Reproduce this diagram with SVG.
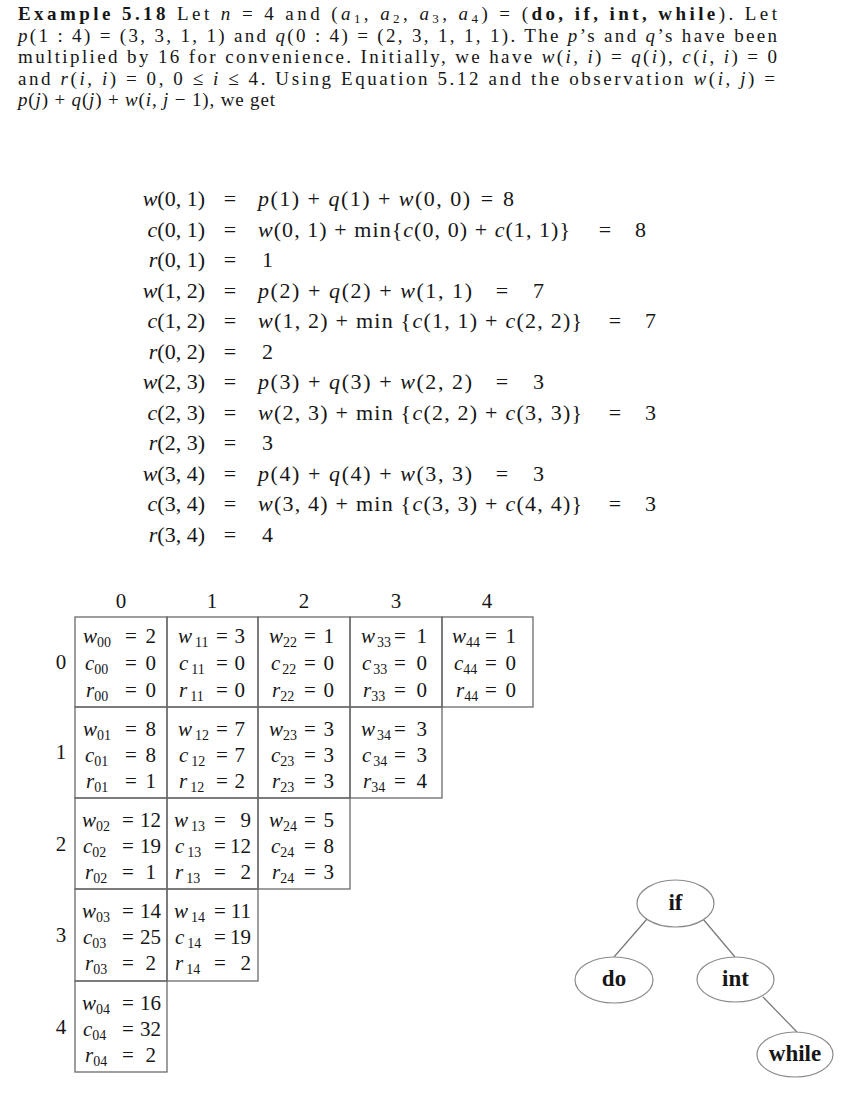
<svg xmlns="http://www.w3.org/2000/svg" width="864" height="1099" viewBox="0 0 864 1099">
<style>
text{font-family:'Liberation Serif','Times New Roman',serif;fill:#161616}
.p{font-size:19px}
.eq{font-size:22px}
.tb{font-size:21px}
.hd{font-size:21px}
.i{font-style:italic}
.b{font-weight:bold}
.sub{font-size:14px;baseline-shift:-4px}
.psub{font-size:13px;baseline-shift:-3px}
.m{text-anchor:middle}
.e{text-anchor:end}
.cell{fill:none;stroke:#6a6a6a;stroke-width:1.3}
.node{fill:#fff;stroke:#8a8a8a;stroke-width:1.2}
.nl{font-size:23px;font-weight:bold;text-anchor:middle}
.edge{stroke:#777;stroke-width:1.2;fill:none}
</style>
<rect width="864" height="1099" fill="#fff"/>
<g id="paragraph">
<text class="p" x="18" y="20" textLength="759" lengthAdjust="spacing"><tspan class="b">Example 5.18</tspan> Let <tspan class="i">n</tspan> = 4 and (<tspan class="i">a</tspan><tspan class="psub">1</tspan>, <tspan class="i">a</tspan><tspan class="psub">2</tspan>, <tspan class="i">a</tspan><tspan class="psub">3</tspan>, <tspan class="i">a</tspan><tspan class="psub">4</tspan>) = (<tspan class="b">do, if, int, while</tspan>). Let</text>
<text class="p" x="18" y="41.5" textLength="759" lengthAdjust="spacing"><tspan class="i">p</tspan>(1 : 4) = (3, 3, 1, 1) and <tspan class="i">q</tspan>(0 : 4) = (2, 3, 1, 1, 1). The <tspan class="i">p</tspan>’s and <tspan class="i">q</tspan>’s have been</text>
<text class="p" x="18" y="63" textLength="759" lengthAdjust="spacing">multiplied by 16 for convenience. Initially, we have <tspan class="i">w</tspan>(<tspan class="i">i</tspan>, <tspan class="i">i</tspan>) = <tspan class="i">q</tspan>(<tspan class="i">i</tspan>), <tspan class="i">c</tspan>(<tspan class="i">i</tspan>, <tspan class="i">i</tspan>) = 0</text>
<text class="p" x="18" y="84.5" textLength="757" lengthAdjust="spacing">and <tspan class="i">r</tspan>(<tspan class="i">i</tspan>, <tspan class="i">i</tspan>) = 0, 0 ≤ <tspan class="i">i</tspan> ≤ 4. Using Equation 5.12 and the observation <tspan class="i">w</tspan>(<tspan class="i">i</tspan>, <tspan class="i">j</tspan>) =</text>
<text class="p" x="18" y="106" textLength="257" lengthAdjust="spacing"><tspan class="i">p</tspan>(<tspan class="i">j</tspan>) + <tspan class="i">q</tspan>(<tspan class="i">j</tspan>) + <tspan class="i">w</tspan>(<tspan class="i">i</tspan>, <tspan class="i">j</tspan> − 1), we get</text>
</g>
<g id="equations">
<text class="eq e" x="205" y="206"><tspan class="i">w</tspan>(0, 1)</text>
<text class="eq m" x="230" y="206">=</text>
<text class="eq" x="258" y="206" textLength="212" lengthAdjust="spacing"><tspan class="i">p</tspan>(1) + <tspan class="i">q</tspan>(1) + <tspan class="i">w</tspan>(0, 0)</text>
<text class="eq m" x="487" y="206">=</text>
<text class="eq" x="503" y="206">8</text>

<text class="eq e" x="205" y="236.5"><tspan class="i">c</tspan>(0, 1)</text>
<text class="eq m" x="230" y="236.5">=</text>
<text class="eq" x="258" y="236.5" textLength="312" lengthAdjust="spacing"><tspan class="i">w</tspan>(0, 1) + min{<tspan class="i">c</tspan>(0, 0) + <tspan class="i">c</tspan>(1, 1)}</text>
<text class="eq m" x="605" y="236.5">=</text>
<text class="eq" x="635" y="236.5">8</text>

<text class="eq e" x="205" y="267"><tspan class="i">r</tspan>(0, 1)</text>
<text class="eq m" x="230" y="267">=</text>
<text class="eq" x="262" y="267">1</text>

<text class="eq e" x="205" y="297.5"><tspan class="i">w</tspan>(1, 2)</text>
<text class="eq m" x="230" y="297.5">=</text>
<text class="eq" x="258" y="297.5" textLength="214" lengthAdjust="spacing"><tspan class="i">p</tspan>(2) + <tspan class="i">q</tspan>(2) + <tspan class="i">w</tspan>(1, 1)</text>
<text class="eq m" x="502" y="297.5">=</text>
<text class="eq" x="533" y="297.5">7</text>

<text class="eq e" x="205" y="328"><tspan class="i">c</tspan>(1, 2)</text>
<text class="eq m" x="230" y="328">=</text>
<text class="eq" x="258" y="328" textLength="324" lengthAdjust="spacing"><tspan class="i">w</tspan>(1, 2) + min {<tspan class="i">c</tspan>(1, 1) + <tspan class="i">c</tspan>(2, 2)}</text>
<text class="eq m" x="615" y="328">=</text>
<text class="eq" x="645" y="328">7</text>

<text class="eq e" x="205" y="358.5"><tspan class="i">r</tspan>(0, 2)</text>
<text class="eq m" x="230" y="358.5">=</text>
<text class="eq" x="262" y="358.5">2</text>

<text class="eq e" x="205" y="389"><tspan class="i">w</tspan>(2, 3)</text>
<text class="eq m" x="230" y="389">=</text>
<text class="eq" x="258" y="389" textLength="214" lengthAdjust="spacing"><tspan class="i">p</tspan>(3) + <tspan class="i">q</tspan>(3) + <tspan class="i">w</tspan>(2, 2)</text>
<text class="eq m" x="502" y="389">=</text>
<text class="eq" x="533" y="389">3</text>

<text class="eq e" x="205" y="419.5"><tspan class="i">c</tspan>(2, 3)</text>
<text class="eq m" x="230" y="419.5">=</text>
<text class="eq" x="258" y="419.5" textLength="324" lengthAdjust="spacing"><tspan class="i">w</tspan>(2, 3) + min {<tspan class="i">c</tspan>(2, 2) + <tspan class="i">c</tspan>(3, 3)}</text>
<text class="eq m" x="615" y="419.5">=</text>
<text class="eq" x="645" y="419.5">3</text>

<text class="eq e" x="205" y="450"><tspan class="i">r</tspan>(2, 3)</text>
<text class="eq m" x="230" y="450">=</text>
<text class="eq" x="262" y="450">3</text>

<text class="eq e" x="205" y="480.5"><tspan class="i">w</tspan>(3, 4)</text>
<text class="eq m" x="230" y="480.5">=</text>
<text class="eq" x="258" y="480.5" textLength="214" lengthAdjust="spacing"><tspan class="i">p</tspan>(4) + <tspan class="i">q</tspan>(4) + <tspan class="i">w</tspan>(3, 3)</text>
<text class="eq m" x="502" y="480.5">=</text>
<text class="eq" x="533" y="480.5">3</text>

<text class="eq e" x="205" y="511"><tspan class="i">c</tspan>(3, 4)</text>
<text class="eq m" x="230" y="511">=</text>
<text class="eq" x="258" y="511" textLength="324" lengthAdjust="spacing"><tspan class="i">w</tspan>(3, 4) + min {<tspan class="i">c</tspan>(3, 3) + <tspan class="i">c</tspan>(4, 4)}</text>
<text class="eq m" x="615" y="511">=</text>
<text class="eq" x="645" y="511">3</text>

<text class="eq e" x="205" y="541.5"><tspan class="i">r</tspan>(3, 4)</text>
<text class="eq m" x="230" y="541.5">=</text>
<text class="eq" x="262" y="541.5">4</text>
</g>
<g id="table-headers">
<text class="hd m" x="121" y="608">0</text>
<text class="hd m" x="212" y="608">1</text>
<text class="hd m" x="304" y="608">2</text>
<text class="hd m" x="396" y="608">3</text>
<text class="hd m" x="487" y="608">4</text>
<text class="hd m" x="61" y="669">0</text>
<text class="hd m" x="61" y="759">1</text>
<text class="hd m" x="61" y="851">2</text>
<text class="hd m" x="61" y="942">3</text>
<text class="hd m" x="61" y="1034">4</text>
</g>
<g id="cell-0-0"><rect class="cell" x="75" y="617" width="92" height="90"/>
<text class="tb" x="83" y="643"><tspan class="i">w</tspan><tspan class="sub">00</tspan></text><text class="tb m" x="131" y="643">=</text><text class="tb e" x="156" y="643">2</text>
<text class="tb" x="85" y="670"><tspan class="i">c</tspan><tspan class="sub">00</tspan></text><text class="tb m" x="131" y="670">=</text><text class="tb e" x="156" y="670">0</text>
<text class="tb" x="86" y="697"><tspan class="i">r</tspan><tspan class="sub">00</tspan></text><text class="tb m" x="131" y="697">=</text><text class="tb e" x="156" y="697">0</text></g>
<g id="cell-1-1"><rect class="cell" x="167" y="617" width="91" height="90"/>
<text class="tb" x="178" y="643"><tspan class="i">w</tspan><tspan class="sub" dx="3">11</tspan></text><text class="tb m" x="222" y="643">=</text><text class="tb e" x="245" y="643">3</text>
<text class="tb" x="179" y="670"><tspan class="i">c</tspan><tspan class="sub" dx="3">11</tspan></text><text class="tb m" x="222" y="670">=</text><text class="tb e" x="245" y="670">0</text>
<text class="tb" x="179" y="697"><tspan class="i">r</tspan><tspan class="sub" dx="3">11</tspan></text><text class="tb m" x="222" y="697">=</text><text class="tb e" x="245" y="697">0</text></g>
<g id="cell-2-2"><rect class="cell" x="258" y="617" width="92" height="90"/>
<text class="tb" x="269" y="643"><tspan class="i">w</tspan><tspan class="sub">22</tspan></text><text class="tb m" x="310" y="643">=</text><text class="tb e" x="334" y="643">1</text>
<text class="tb" x="271" y="670"><tspan class="i">c</tspan><tspan class="sub" dx="2">22</tspan></text><text class="tb m" x="310" y="670">=</text><text class="tb e" x="334" y="670">0</text>
<text class="tb" x="272" y="697"><tspan class="i">r</tspan><tspan class="sub">22</tspan></text><text class="tb m" x="310" y="697">=</text><text class="tb e" x="334" y="697">0</text></g>
<g id="cell-3-3"><rect class="cell" x="350" y="617" width="92" height="90"/>
<text class="tb" x="361" y="643"><tspan class="i">w</tspan><tspan class="sub" dx="2">33</tspan></text><text class="tb m" x="400" y="643">=</text><text class="tb e" x="427" y="643">1</text>
<text class="tb" x="362" y="670"><tspan class="i">c</tspan><tspan class="sub" dx="2">33</tspan></text><text class="tb m" x="400" y="670">=</text><text class="tb e" x="427" y="670">0</text>
<text class="tb" x="363" y="697"><tspan class="i">r</tspan><tspan class="sub">33</tspan></text><text class="tb m" x="400" y="697">=</text><text class="tb e" x="427" y="697">0</text></g>
<g id="cell-4-4"><rect class="cell" x="442" y="617" width="91" height="90"/>
<text class="tb" x="452" y="643"><tspan class="i">w</tspan><tspan class="sub">44</tspan></text><text class="tb m" x="491" y="643">=</text><text class="tb e" x="516" y="643">1</text>
<text class="tb" x="454" y="670"><tspan class="i">c</tspan><tspan class="sub">44</tspan></text><text class="tb m" x="491" y="670">=</text><text class="tb e" x="516" y="670">0</text>
<text class="tb" x="456" y="697"><tspan class="i">r</tspan><tspan class="sub">44</tspan></text><text class="tb m" x="491" y="697">=</text><text class="tb e" x="516" y="697">0</text></g>
<g id="cell-0-1"><rect class="cell" x="75" y="707" width="92" height="91"/>
<text class="tb" x="83" y="736"><tspan class="i">w</tspan><tspan class="sub">01</tspan></text><text class="tb m" x="131" y="736">=</text><text class="tb e" x="156" y="736">8</text>
<text class="tb" x="85" y="762"><tspan class="i">c</tspan><tspan class="sub">01</tspan></text><text class="tb m" x="131" y="762">=</text><text class="tb e" x="156" y="762">8</text>
<text class="tb" x="86" y="788"><tspan class="i">r</tspan><tspan class="sub">01</tspan></text><text class="tb m" x="131" y="788">=</text><text class="tb e" x="156" y="788">1</text></g>
<g id="cell-1-2"><rect class="cell" x="167" y="707" width="91" height="91"/>
<text class="tb" x="178" y="736"><tspan class="i">w</tspan><tspan class="sub" dx="3">12</tspan></text><text class="tb m" x="222" y="736">=</text><text class="tb e" x="245" y="736">7</text>
<text class="tb" x="179" y="762"><tspan class="i">c</tspan><tspan class="sub" dx="3">12</tspan></text><text class="tb m" x="222" y="762">=</text><text class="tb e" x="245" y="762">7</text>
<text class="tb" x="179" y="788"><tspan class="i">r</tspan><tspan class="sub" dx="3">12</tspan></text><text class="tb m" x="222" y="788">=</text><text class="tb e" x="245" y="788">2</text></g>
<g id="cell-2-3"><rect class="cell" x="258" y="707" width="92" height="91"/>
<text class="tb" x="269" y="736"><tspan class="i">w</tspan><tspan class="sub">23</tspan></text><text class="tb m" x="310" y="736">=</text><text class="tb e" x="334" y="736">3</text>
<text class="tb" x="271" y="762"><tspan class="i">c</tspan><tspan class="sub">23</tspan></text><text class="tb m" x="310" y="762">=</text><text class="tb e" x="334" y="762">3</text>
<text class="tb" x="272" y="788"><tspan class="i">r</tspan><tspan class="sub">23</tspan></text><text class="tb m" x="310" y="788">=</text><text class="tb e" x="334" y="788">3</text></g>
<g id="cell-3-4"><rect class="cell" x="350" y="707" width="92" height="91"/>
<text class="tb" x="361" y="736"><tspan class="i">w</tspan><tspan class="sub" dx="2">34</tspan></text><text class="tb m" x="400" y="736">=</text><text class="tb e" x="427" y="736">3</text>
<text class="tb" x="362" y="762"><tspan class="i">c</tspan><tspan class="sub" dx="2">34</tspan></text><text class="tb m" x="400" y="762">=</text><text class="tb e" x="427" y="762">3</text>
<text class="tb" x="363" y="788"><tspan class="i">r</tspan><tspan class="sub">34</tspan></text><text class="tb m" x="400" y="788">=</text><text class="tb e" x="427" y="788">4</text></g>
<g id="cell-0-2"><rect class="cell" x="75" y="798" width="92" height="91"/>
<text class="tb" x="82" y="827"><tspan class="i">w</tspan><tspan class="sub">02</tspan></text><text class="tb m" x="128" y="827">=</text><text class="tb e" x="161" y="827">12</text>
<text class="tb" x="83" y="853"><tspan class="i">c</tspan><tspan class="sub">02</tspan></text><text class="tb m" x="128" y="853">=</text><text class="tb e" x="161" y="853">19</text>
<text class="tb" x="85" y="879"><tspan class="i">r</tspan><tspan class="sub">02</tspan></text><text class="tb m" x="128" y="879">=</text><text class="tb e" x="156" y="879">1</text></g>
<g id="cell-1-3"><rect class="cell" x="167" y="798" width="91" height="91"/>
<text class="tb" x="174" y="827"><tspan class="i">w</tspan><tspan class="sub" dx="3">13</tspan></text><text class="tb m" x="220" y="827">=</text><text class="tb e" x="251" y="827">9</text>
<text class="tb" x="175" y="853"><tspan class="i">c</tspan><tspan class="sub" dx="3">13</tspan></text><text class="tb m" x="220" y="853">=</text><text class="tb e" x="251" y="853">12</text>
<text class="tb" x="175" y="879"><tspan class="i">r</tspan><tspan class="sub" dx="3">13</tspan></text><text class="tb m" x="220" y="879">=</text><text class="tb e" x="251" y="879">2</text></g>
<g id="cell-2-4"><rect class="cell" x="258" y="798" width="92" height="91"/>
<text class="tb" x="269" y="827"><tspan class="i">w</tspan><tspan class="sub">24</tspan></text><text class="tb m" x="310" y="827">=</text><text class="tb e" x="334" y="827">5</text>
<text class="tb" x="271" y="853"><tspan class="i">c</tspan><tspan class="sub">24</tspan></text><text class="tb m" x="310" y="853">=</text><text class="tb e" x="334" y="853">8</text>
<text class="tb" x="272" y="879"><tspan class="i">r</tspan><tspan class="sub">24</tspan></text><text class="tb m" x="310" y="879">=</text><text class="tb e" x="334" y="879">3</text></g>
<g id="cell-0-3"><rect class="cell" x="75" y="889" width="92" height="92"/>
<text class="tb" x="82" y="918"><tspan class="i">w</tspan><tspan class="sub">03</tspan></text><text class="tb m" x="128" y="918">=</text><text class="tb e" x="161" y="918">14</text>
<text class="tb" x="83" y="944"><tspan class="i">c</tspan><tspan class="sub">03</tspan></text><text class="tb m" x="128" y="944">=</text><text class="tb e" x="161" y="944">25</text>
<text class="tb" x="85" y="970"><tspan class="i">r</tspan><tspan class="sub">03</tspan></text><text class="tb m" x="128" y="970">=</text><text class="tb e" x="156" y="970">2</text></g>
<g id="cell-1-4"><rect class="cell" x="167" y="889" width="91" height="92"/>
<text class="tb" x="174" y="918"><tspan class="i">w</tspan><tspan class="sub" dx="3">14</tspan></text><text class="tb m" x="220" y="918">=</text><text class="tb e" x="251" y="918">11</text>
<text class="tb" x="175" y="944"><tspan class="i">c</tspan><tspan class="sub" dx="3">14</tspan></text><text class="tb m" x="220" y="944">=</text><text class="tb e" x="251" y="944">19</text>
<text class="tb" x="175" y="970"><tspan class="i">r</tspan><tspan class="sub" dx="3">14</tspan></text><text class="tb m" x="220" y="970">=</text><text class="tb e" x="251" y="970">2</text></g>
<g id="cell-0-4"><rect class="cell" x="75" y="981" width="92" height="91"/>
<text class="tb" x="82" y="1010"><tspan class="i">w</tspan><tspan class="sub">04</tspan></text><text class="tb m" x="128" y="1010">=</text><text class="tb e" x="161" y="1010">16</text>
<text class="tb" x="83" y="1036"><tspan class="i">c</tspan><tspan class="sub">04</tspan></text><text class="tb m" x="128" y="1036">=</text><text class="tb e" x="161" y="1036">32</text>
<text class="tb" x="85" y="1062"><tspan class="i">r</tspan><tspan class="sub">04</tspan></text><text class="tb m" x="128" y="1062">=</text><text class="tb e" x="156" y="1062">2</text></g>
<g id="connectors">
<line class="edge" x1="647" y1="919" x2="614" y2="957"/>
<line class="edge" x1="703" y1="919" x2="735" y2="957"/>
<line class="edge" x1="763" y1="997" x2="797" y2="1032"/>
</g>
<g id="node-if"><ellipse class="node" cx="675.5" cy="903.5" rx="38.5" ry="23.5"/><text class="nl" x="675.5" y="910">if</text></g>
<g id="node-do"><ellipse class="node" cx="614" cy="980" rx="39" ry="23"/><text class="nl" x="614" y="986">do</text></g>
<g id="node-int"><ellipse class="node" cx="735.5" cy="979.5" rx="38.5" ry="22.5"/><text class="nl" x="735.5" y="986">int</text></g>
<g id="node-while"><ellipse class="node" cx="795" cy="1054.5" rx="38" ry="22.5"/><text class="nl" x="795" y="1061">while</text></g>
</svg>
